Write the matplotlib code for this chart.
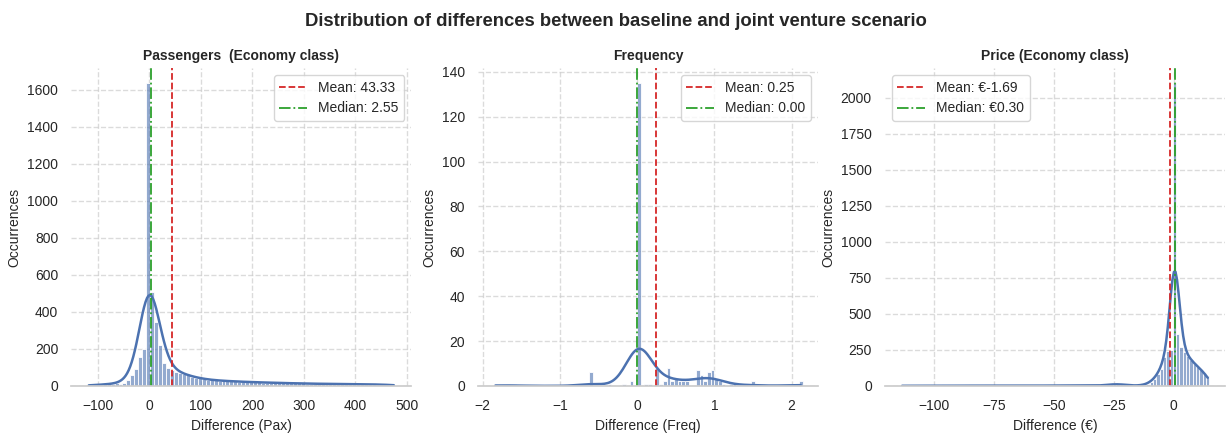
import numpy as np
import matplotlib
matplotlib.use("Agg")
import matplotlib.pyplot as plt
from matplotlib.ticker import MultipleLocator
import seaborn as sns

# Passengers (economy): bin counts, bins ~7.69 pax wide
pax_start = -121.5
pax_width = 7.69
pax_counts = [
    3, 4, 5, 6, 8, 9, 11,
    14, 11, 18, 32, 59, 92, 154, 200,
    1635,
    506, 345, 221, 122, 99, 86, 77, 72, 65, 57, 50, 45,
    40, 37, 34, 32, 30, 28, 27, 26, 25, 24,
    23, 22, 21, 20, 20, 19, 18, 18, 17, 16,
    16, 15, 15, 14, 14, 13, 13, 12, 12, 12,
    11, 11, 11, 10, 10, 10, 10, 9, 9, 9,
    9, 9, 8, 8, 8, 7, 7, 6, 6, 5,
]
pax_mean = 43.33
pax_median = 2.55

# Frequency: bins 1/21 wide starting at -1.857, only non-empty bins listed
freq_start = -1.857
freq_width = 1 / 21
freq_nbins = 84
freq_bins = [0, 5, 26, 31, 35, 37, 39, 41, 42, 44, 45, 46, 47, 48, 49, 50, 51, 52,
             55, 56, 57, 58, 59, 60, 61, 62, 64, 65, 70, 80, 83]
freq_vals = [1, 1, 6, 1, 1, 2, 135, 1, 1, 8, 1, 2, 8, 2, 3, 2, 2, 2,
             7, 5, 2, 6, 7, 3, 2, 1, 1, 1, 2, 1, 2]
freq_mean = 0.25
freq_median = 0.00

# Price (economy): bin counts, bins ~1.386 EUR wide starting at -114.05
price_start = -114.05
price_width = 1.386
price_counts = [
    1, 0, 1, 1, 0, 1, 2, 1, 0, 1,
    1, 1, 2, 1, 1, 0, 1, 2, 1, 1,
    2, 1, 1, 2, 1, 1, 2, 1, 2, 1,
    1, 2, 2, 1, 2, 1, 2, 2, 1, 2,
    2, 2, 1, 2, 2, 2, 1, 2, 2, 2,
    2, 2, 2, 3, 2, 2, 3, 2, 3,
    2, 3, 5, 8, 10, 12, 12, 10, 8, 5, 3, 2, 2,
    4, 8, 15, 30, 50, 80, 120, 200, 245, 250,
    2100,
    360, 270, 235, 205, 180, 155, 132, 112, 92, 70,
]
price_mean = -1.69
price_median = 0.30

sns.set_theme(style="whitegrid")
plt.rcParams['font.family'] = ['Liberation Sans', 'DejaVu Sans']

bar_color = '#4c72b0'
mean_color = '#d62728'
median_color = '#2ca02c'


def expand(start, width, counts):
    # rebuild a sample from the bin counts so seaborn can bin it and fit the kde
    edges = start + width * np.arange(len(counts) + 1)
    centers = (edges[:-1] + edges[1:]) / 2
    return edges, np.repeat(centers, counts)


def sparse(nbins, bins, vals):
    counts = np.zeros(nbins, dtype=int)
    counts[bins] = vals
    return counts


panels = [
    ("Passengers  (Economy class)", "Difference (Pax)",
     expand(pax_start, pax_width, pax_counts),
     pax_mean, pax_median, "{:.2f}", "upper right"),
    ("Frequency", "Difference (Freq)",
     expand(freq_start, freq_width, sparse(freq_nbins, freq_bins, freq_vals)),
     freq_mean, freq_median, "{:.2f}", "upper right"),
    ("Price (Economy class)", "Difference (€)",
     expand(price_start, price_width, price_counts),
     price_mean, price_median, "€{:.2f}", "upper left"),
]

fig, axes = plt.subplots(1, 3, figsize=(12.31, 4.36), dpi=100)
fig.subplots_adjust(left=0.058, right=0.995, top=0.844, bottom=0.115, wspace=0.197)

for ax, (title, xlabel, (edges, sample), mean, median, fmt, loc) in zip(axes, panels):
    sns.histplot(sample, bins=edges, kde=True, ax=ax, color=bar_color, alpha=0.6,
                 edgecolor='white', linewidth=0.6, line_kws={'linewidth': 1.8})
    ax.axvline(mean, color=mean_color, linestyle='--', linewidth=1.3,
               label="Mean: " + fmt.format(mean))
    ax.axvline(median, color=median_color, linestyle='-.', linewidth=1.3,
               label="Median: " + fmt.format(median))
    ax.set_title(title, fontsize=10, fontweight='bold')
    ax.set_xlabel(xlabel, fontsize=10)
    ax.set_ylabel("Occurrences", fontsize=10)
    ax.tick_params(labelsize=10)
    ax.grid(True, linestyle='--', alpha=0.7)
    ax.legend(loc=loc, fontsize=10)
    sns.despine(ax=ax, left=True)

axes[2].xaxis.set_major_locator(MultipleLocator(25))

fig.suptitle("Distribution of differences between baseline and joint venture scenario",
             fontsize=13.3, fontweight='bold', y=0.97)

fig.savefig("out.png", dpi=100)
